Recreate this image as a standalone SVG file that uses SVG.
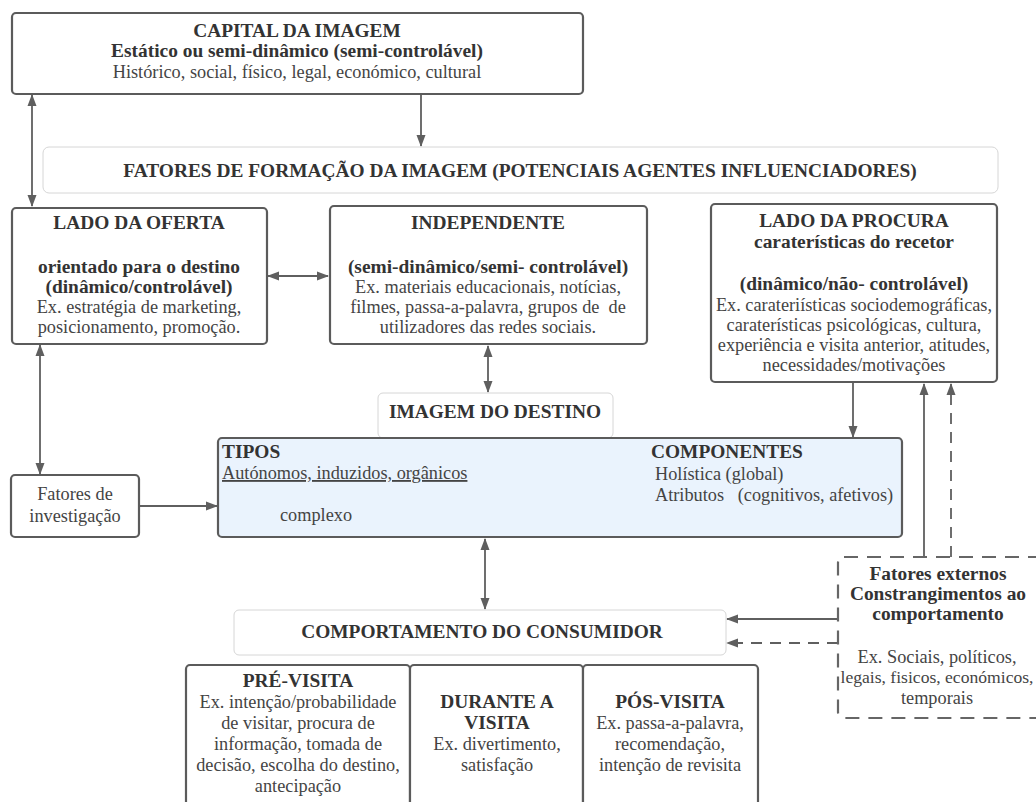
<svg xmlns="http://www.w3.org/2000/svg" width="1036" height="802" viewBox="0 0 1036 802">
  <style>
    text { font-family: "Liberation Serif", serif; font-size: 18.3px; fill: #444; }
    .b { font-weight: bold; font-size: 19.4px; fill: #333; }
    .c { text-anchor: middle; }
    .box { fill: #fff; stroke: #5b5b5b; stroke-width: 2.2; }
    .soft { fill: #fff; stroke: #d6d6d6; stroke-width: 1; }
    .dash { fill: #fff; stroke: #666; stroke-width: 2.2; stroke-dasharray: 14 9; }
    .blue { fill: #eaf3fd; stroke: #5b5b5b; stroke-width: 2.2; }
    .ln { stroke: #5f5f5f; stroke-width: 1.8; fill: none; }
    .dl { stroke: #5f5f5f; stroke-width: 1.8; fill: none; stroke-dasharray: 11 8; }
  </style>
  <defs>
    <marker id="ah" markerUnits="userSpaceOnUse" markerWidth="12" markerHeight="12" viewBox="0 0 12 12" refX="11" refY="6" orient="auto-start-reverse">
      <path d="M0,1.5 L12,6 L0,10.5 Z" fill="#5f5f5f"/>
    </marker>
  </defs>
  <rect width="1036" height="802" fill="#fff"/>

  <g font-family="Liberation Serif, serif">
  <!-- connectors -->
  <g id="connectors">
    <line class="ln" x1="421" y1="94" x2="421" y2="146" marker-end="url(#ah)"/>
    <line class="ln" x1="32" y1="95" x2="32" y2="206" marker-start="url(#ah)" marker-end="url(#ah)"/>
    <line class="ln" x1="268" y1="276" x2="328" y2="276" marker-start="url(#ah)" marker-end="url(#ah)"/>
    <line class="ln" x1="488" y1="346" x2="488" y2="392" marker-start="url(#ah)" marker-end="url(#ah)"/>
    <line class="ln" x1="40" y1="345" x2="40" y2="474" marker-start="url(#ah)" marker-end="url(#ah)"/>
    <line class="ln" x1="140" y1="506" x2="217" y2="506" marker-end="url(#ah)"/>
    <line class="ln" x1="853" y1="383" x2="853" y2="437" marker-end="url(#ah)"/>
    <line class="ln" x1="485" y1="539" x2="485" y2="609" marker-start="url(#ah)" marker-end="url(#ah)"/>
    <line class="ln" x1="924" y1="557" x2="924" y2="384" marker-end="url(#ah)"/>
    <line class="dl" x1="951" y1="557" x2="951" y2="384" marker-end="url(#ah)"/>
    <line class="ln" x1="838" y1="619" x2="727" y2="619" marker-end="url(#ah)"/>
    <line class="dl" x1="838" y1="643" x2="727" y2="643" marker-end="url(#ah)"/>
  </g>

  <g id="capital">
    <rect class="box" x="12" y="13" width="571" height="81" rx="4"/>
    <text class="b c" x="297" y="37">CAPITAL DA IMAGEM</text>
    <text class="b c" x="297" y="57">Estático ou semi-dinâmico (semi-controlável)</text>
    <text class="c" x="297" y="78">Histórico, social, físico, legal, económico, cultural</text>
  </g>

  <g id="fatores-formacao">
    <rect class="soft" x="43" y="147" width="955" height="46" rx="6"/>
    <text class="b c" x="520" y="177">FATORES DE FORMAÇÃO DA IMAGEM (POTENCIAIS AGENTES INFLUENCIADORES)</text>
  </g>

  <g id="oferta">
    <rect class="box" x="12" y="208" width="255" height="136" rx="4"/>
    <text class="b c" x="139" y="229">LADO DA OFERTA</text>
    <text class="b c" x="139" y="273">orientado para o destino</text>
    <text class="b c" x="139" y="293">(dinâmico/controlável)</text>
    <text class="c" x="139" y="313">Ex. estratégia de marketing,</text>
    <text class="c" x="139" y="333">posicionamento, promoção.</text>
  </g>

  <g id="independente">
    <rect class="box" x="330" y="206" width="317" height="138" rx="4"/>
    <text class="b c" x="488" y="229">INDEPENDENTE</text>
    <text class="b c" x="488" y="273">(semi-dinâmico/semi- controlável)</text>
    <text class="c" x="488" y="293">Ex. materiais educacionais, notícias,</text>
    <text class="c" x="488" y="313" xml:space="preserve">filmes, passa-a-palavra, grupos de  de</text>
    <text class="c" x="488" y="333">utilizadores das redes sociais.</text>
  </g>

  <g id="procura">
    <rect class="box" x="711" y="204" width="286" height="178" rx="4"/>
    <text class="b c" x="854" y="227">LADO DA PROCURA</text>
    <text class="b c" x="854" y="248">caraterísticas do recetor</text>
    <text class="b c" x="854" y="290">(dinâmico/não- controlável)</text>
    <text class="c" x="854" y="311">Ex. carateriísticas sociodemográficas,</text>
    <text class="c" x="854" y="331">caraterísticas psicológicas, cultura,</text>
    <text class="c" x="854" y="351">experiência e visita anterior, atitudes,</text>
    <text class="c" x="854" y="371">necessidades/motivações</text>
  </g>

  <g id="imagem-destino">
    <rect class="soft" x="378" y="393" width="235" height="45" rx="5"/>
    <text class="b c" x="495" y="418">IMAGEM DO DESTINO</text>
  </g>

  <g id="tipos-componentes">
    <rect class="blue" x="218" y="438" width="684" height="99" rx="4"/>
    <text class="b" x="222" y="458">TIPOS</text>
    <text x="222" y="479" text-decoration="underline">Autónomos, induzidos, orgânicos</text>
    <text x="280" y="521">complexo</text>
    <text class="b" x="651" y="458">COMPONENTES</text>
    <text x="655" y="480">Holística (global)</text>
    <text x="655" y="501" xml:space="preserve">Atributos   (cognitivos, afetivos)</text>
  </g>

  <g id="investigacao">
    <rect class="box" x="11" y="475" width="128" height="62" rx="4"/>
    <text class="c" x="75" y="500">Fatores de</text>
    <text class="c" x="75" y="522">investigação</text>
  </g>

  <g id="fatores-externos">
    <rect class="dash" x="838" y="557" width="212" height="161" rx="6"/>
    <text class="b c" x="938" y="580">Fatores externos</text>
    <text class="b c" x="938" y="600">Constrangimentos ao</text>
    <text class="b c" x="938" y="620">comportamento</text>
    <text class="c" x="937" y="663">Ex. Sociais, políticos,</text>
    <text class="c" x="937" y="683" style="font-size:17.6px">legais, fisicos, económicos,</text>
    <text class="c" x="937" y="704">temporais</text>
  </g>

  <g id="comportamento">
    <rect class="soft" x="234" y="610" width="492" height="45" rx="5"/>
    <text class="b c" x="482" y="638">COMPORTAMENTO DO CONSUMIDOR</text>
  </g>

  <g id="pre-visita">
    <rect class="box" x="186" y="665" width="224" height="150" rx="4"/>
    <text class="b c" x="298" y="687">PRÉ-VISITA</text>
    <text class="c" x="298" y="708">Ex. intenção/probabilidade</text>
    <text class="c" x="298" y="729">de visitar, procura de</text>
    <text class="c" x="298" y="750">informação, tomada de</text>
    <text class="c" x="298" y="771">decisão, escolha do destino,</text>
    <text class="c" x="298" y="792">antecipação</text>
  </g>

  <g id="durante-visita">
    <rect class="box" x="410" y="665" width="173" height="150" rx="4"/>
    <text class="b c" x="497" y="708">DURANTE A</text>
    <text class="b c" x="497" y="729">VISITA</text>
    <text class="c" x="497" y="750">Ex. divertimento,</text>
    <text class="c" x="497" y="771">satisfação</text>
  </g>

  <g id="pos-visita">
    <rect class="box" x="583" y="665" width="175" height="150" rx="4"/>
    <text class="b c" x="670" y="708">PÓS-VISITA</text>
    <text class="c" x="670" y="729">Ex. passa-a-palavra,</text>
    <text class="c" x="670" y="750">recomendação,</text>
    <text class="c" x="670" y="771">intenção de revisita</text>
  </g>
  </g>
</svg>
